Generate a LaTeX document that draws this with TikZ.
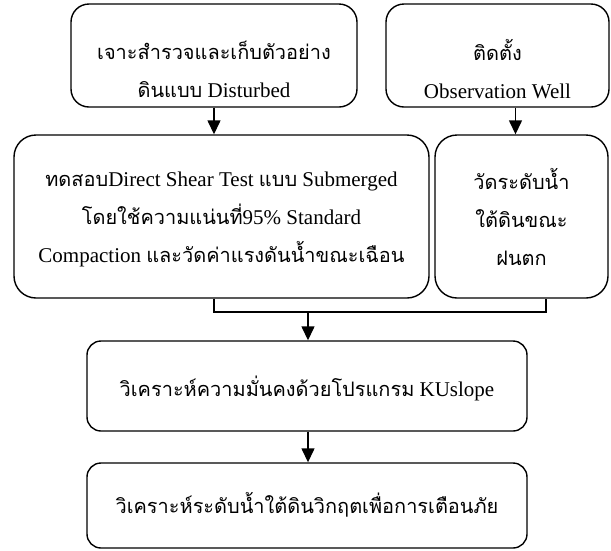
\documentclass[tikz,border=0pt]{standalone}
\usepackage{fontspec}
\setmainfont{Liberation Serif}
\newfontfamily\thai[Script=Thai,Scale=0.95]{Loma}
\usetikzlibrary{arrows.meta}
\begin{document}
\begin{tikzpicture}[x=1pt,y=-1pt,
  box/.style={draw,line width=1.4pt,inner sep=0pt},
  txt/.style={align=center,font=\fontsize{21}{38}\selectfont,inner sep=0pt},
  arr/.style={line width=1.4pt,-{Triangle[length=14pt,width=13pt]}},
  conn/.style={line width=1.4pt}]
\useasboundingbox (0,0) rectangle (611,550);
\fill[white] (0,0) rectangle (611,550);

% boxes
\node[box,rounded corners=18pt,minimum width=286pt,minimum height=103pt] (b1) at (214,55.5) {};
\node[box,rounded corners=18pt,minimum width=223pt,minimum height=103pt] (b2) at (497.5,55.5) {};
\node[box,rounded corners=22pt,minimum width=415pt,minimum height=163pt] (b3) at (221.5,216.5) {};
\node[box,rounded corners=22pt,minimum width=173pt,minimum height=163pt] (b4) at (521.5,216.5) {};
\node[box,rounded corners=14pt,minimum width=440pt,minimum height=90pt] (b5) at (307,386) {};
\node[box,rounded corners=14pt,minimum width=440pt,minimum height=85pt] (b6) at (307,505.5) {};

% texts
\node[txt] (t1) at (214,69) {{\thai เจาะสำรวจและเก็บตัวอย่าง}\\{\thai ดินแบบ} Disturbed};
\node[txt] (t2) at (497.5,69) {{\thai ติดตั้ง}\\Observation Well};
\node[txt] (t3) at (221.5,219.5) {{\thai ทดสอบ}Direct Shear Test {\thai แบบ} Submerged\\{\thai โดยใช้ความแน่นที่}95\% Standard\\Compaction {\thai และวัดค่าแรงดันน้ำขณะเฉือน}};
\node[txt] (t4) at (521.5,217) {{\thai วัดระดับน้ำ}\\{\thai ใต้ดินขณะ}\\{\thai ฝนตก}};
\node[txt] (t5) at (307,388) {{\thai วิเคราะห์ความมั่นคงด้วยโปรแกรม} KUslope};
\node[txt] (t6) at (307,505) {{\thai วิเคราะห์ระดับน้ำใต้ดินวิกฤตเพื่อการเตือนภัย}};

% connectors
\coordinate (a2x) at (515.5,0);
\coordinate (jl) at (214,312);
\coordinate (jr) at (546,312);
\coordinate (jm) at (308,312);
\draw[arr] (b1.south) -- (b1.south |- b3.north);
\draw[arr] (b2.south -| a2x) -- (b4.north -| a2x);
\draw[conn] (b3.south -| jl) -- (jl) -- (jr) -- (b4.south -| jr);
\draw[arr] (jm) -- (b5.north -| jm);
\draw[arr] (b5.south -| jm) -- (b6.north -| jm);
\end{tikzpicture}
\end{document}
